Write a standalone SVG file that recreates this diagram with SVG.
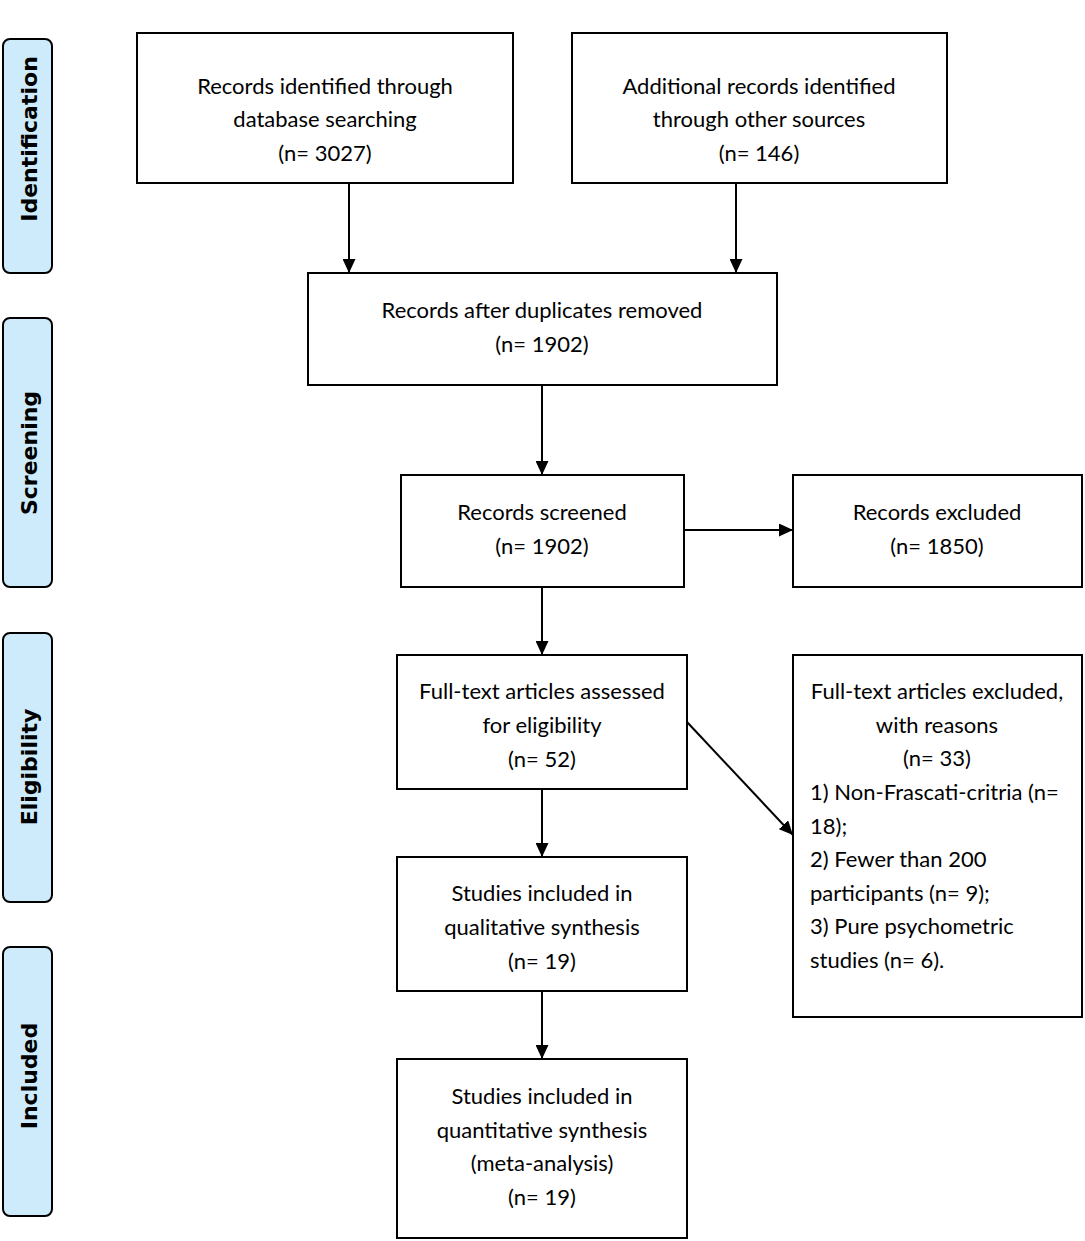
<svg xmlns="http://www.w3.org/2000/svg" width="1085" height="1241" viewBox="0 0 1085 1241">
<style>
.bg{fill:#ffffff}
.box{fill:#ffffff;stroke:#000;stroke-width:2}
.bar{fill:#cdebfb;stroke:#000;stroke-width:2}
.t{font-family:Lato,"Liberation Sans",sans-serif;font-size:22px;fill:#000;text-anchor:middle}
.tl{font-family:Lato,"Liberation Sans",sans-serif;font-size:22px;fill:#000;text-anchor:start}
.side{font-family:"DejaVu Sans",Verdana,sans-serif;font-weight:bold;font-size:22px;fill:#000;text-anchor:middle}
.c{stroke:#000;stroke-width:2;fill:none;marker-end:url(#ah)}
</style>
<defs>
<marker id="ah" viewBox="0 0 14 13" refX="14" refY="6.5" markerWidth="14" markerHeight="13" markerUnits="userSpaceOnUse" orient="auto">
<path d="M0,0 L14,6.5 L0,13 Z" fill="#000"/>
</marker>
</defs>
<rect class="bg" x="0" y="0" width="1085" height="1241"/>

<g id="phase-identification">
<rect class="bar" x="3" y="39" width="49" height="234" rx="7"/>
<text class="side" transform="translate(37,139) rotate(-90)">Identification</text>
</g>
<g id="phase-screening">
<rect class="bar" x="3" y="318" width="49" height="269" rx="7"/>
<text class="side" transform="translate(37,453) rotate(-90)">Screening</text>
</g>
<g id="phase-eligibility">
<rect class="bar" x="3" y="633" width="49" height="269" rx="7"/>
<text class="side" transform="translate(37,767) rotate(-90)">Eligibility</text>
</g>
<g id="phase-included">
<rect class="bar" x="3" y="947" width="49" height="269" rx="7"/>
<text class="side" transform="translate(37,1076) rotate(-90)">Included</text>
</g>

<g id="connectors">
<line class="c" x1="349" y1="183" x2="349" y2="273"/>
<line class="c" x1="736" y1="183" x2="736" y2="273"/>
<line class="c" x1="542" y1="385" x2="542" y2="475"/>
<line class="c" x1="684" y1="530" x2="793" y2="530"/>
<line class="c" x1="542" y1="587" x2="542" y2="655"/>
<line class="c" x1="687" y1="722" x2="793" y2="835"/>
<line class="c" x1="542" y1="789" x2="542" y2="857"/>
<line class="c" x1="542" y1="991" x2="542" y2="1059"/>
</g>

<g id="n-database">
<rect class="box" x="137" y="33" width="376" height="150"/>
<text class="t" x="325" y="94">Records identified through</text>
<text class="t" x="325" y="127">database searching</text>
<text class="t" x="325" y="161">(n= 3027)</text>
</g>
<g id="n-other">
<rect class="box" x="572" y="33" width="375" height="150"/>
<text class="t" x="759" y="94">Additional records identified</text>
<text class="t" x="759" y="127">through other sources</text>
<text class="t" x="759" y="161">(n= 146)</text>
</g>
<g id="n-duplicates">
<rect class="box" x="308" y="273" width="469" height="112"/>
<text class="t" x="542" y="318">Records after duplicates removed</text>
<text class="t" x="542" y="352">(n= 1902)</text>
</g>
<g id="n-screened">
<rect class="box" x="401" y="475" width="283" height="112"/>
<text class="t" x="542" y="520">Records screened</text>
<text class="t" x="542" y="554">(n= 1902)</text>
</g>
<g id="n-excluded">
<rect class="box" x="793" y="475" width="289" height="112"/>
<text class="t" x="937" y="520">Records excluded</text>
<text class="t" x="937" y="554">(n= 1850)</text>
</g>
<g id="n-fulltext">
<rect class="box" x="397" y="655" width="290" height="134"/>
<text class="t" x="542" y="699">Full-text articles assessed</text>
<text class="t" x="542" y="733">for eligibility</text>
<text class="t" x="542" y="767">(n= 52)</text>
</g>
<g id="n-fulltext-excluded">
<rect class="box" x="793" y="655" width="289" height="362"/>
<text class="t" x="937" y="699">Full-text articles excluded,</text>
<text class="t" x="937" y="733">with reasons</text>
<text class="t" x="937" y="766">(n= 33)</text>
<text class="tl" x="810" y="800">1) Non-Frascati-critria (n=</text>
<text class="tl" x="810" y="834">18);</text>
<text class="tl" x="810" y="867">2) Fewer than 200</text>
<text class="tl" x="810" y="901">participants (n= 9);</text>
<text class="tl" x="810" y="934">3) Pure psychometric</text>
<text class="tl" x="810" y="968">studies (n= 6).</text>
</g>
<g id="n-qualitative">
<rect class="box" x="397" y="857" width="290" height="134"/>
<text class="t" x="542" y="901">Studies included in</text>
<text class="t" x="542" y="935">qualitative synthesis</text>
<text class="t" x="542" y="969">(n= 19)</text>
</g>
<g id="n-quantitative">
<rect class="box" x="397" y="1059" width="290" height="179"/>
<text class="t" x="542" y="1104">Studies included in</text>
<text class="t" x="542" y="1138">quantitative synthesis</text>
<text class="t" x="542" y="1171">(meta-analysis)</text>
<text class="t" x="542" y="1205">(n= 19)</text>
</g>
</svg>
